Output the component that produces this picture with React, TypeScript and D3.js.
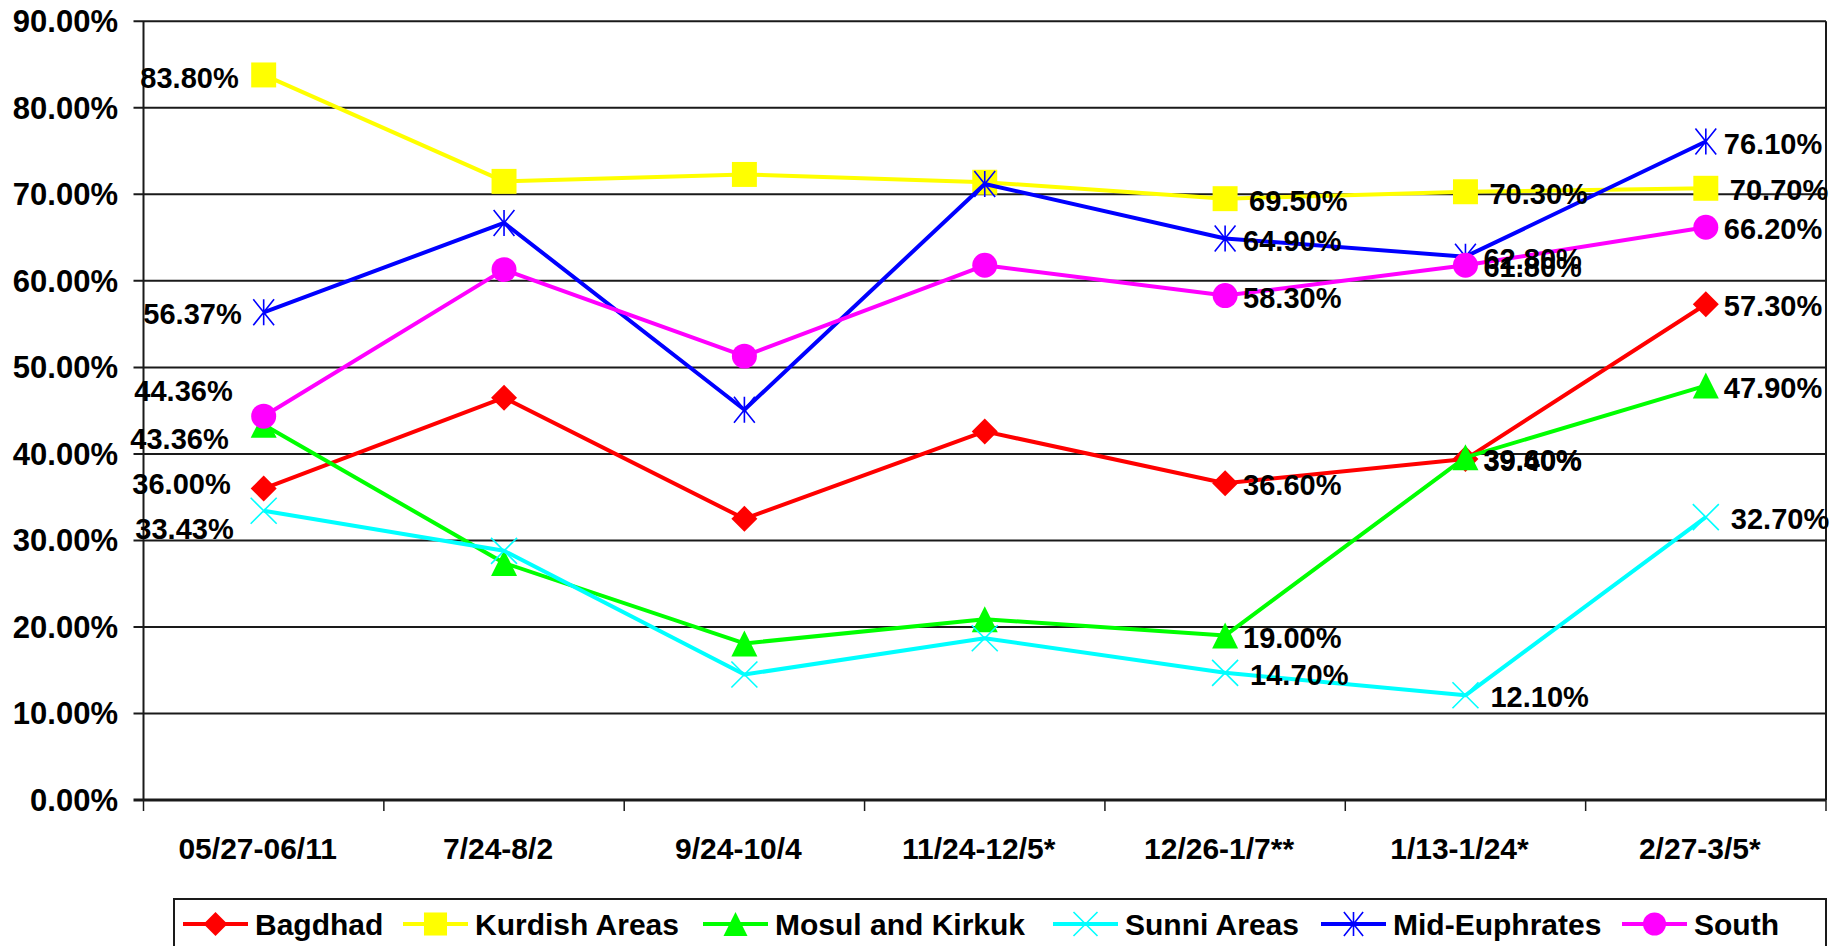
import React from "react";
import * as d3 from "d3";

const categories = ["05/27-06/11", "7/24-8/2", "9/24-10/4", "11/24-12/5*", "12/26-1/7**", "1/13-1/24*", "2/27-3/5*"];
const seriesNames = ["Bagdhad", "Kurdish Areas", "Mosul and Kirkuk", "Sunni Areas", "Mid-Euphrates", "South"];
const bagdhad = [36.0, 46.5, 32.5, 42.6, 36.6, 39.4, 57.3];
const kurdish = [83.8, 71.5, 72.3, 71.4, 69.5, 70.3, 70.7];
const mosul = [43.36, 27.4, 18.1, 20.9, 19.0, 39.6, 47.9];
const sunni = [33.43, 28.8, 14.5, 18.7, 14.7, 12.1, 32.7];
const midEuphrates = [56.37, 66.7, 45.1, 71.2, 64.9, 62.8, 76.1];
const south = [44.36, 61.3, 51.3, 61.8, 58.3, 61.8, 66.2];
const labeledIdx = [0, 4, 5, 6];
const yTicks = [0, 10, 20, 30, 40, 50, 60, 70, 80, 90];

const seriesValues = [bagdhad, kurdish, mosul, sunni, midEuphrates, south];
const colors = ["#FF0000", "#FFFF00", "#00FF00", "#00FFFF", "#0000FF", "#FF00FF"];
const shapes = ["diamond", "square", "triangle", "cross", "star", "circle"];
// first-column label placement (layout): [dx of right edge, dy of text centre]
const firstLabelOffset = [[-33, -5], [-25, 3], [-35, 14], [-30, 18], [-22, 2], [-31, -25]];
const rightLabelDx = [18, 24, 18, 25, 18, 18];
const legendLineX = [183, 403, 703, 1053, 1321, 1622];

const W = 1845, H = 946;
const left = 143.5, right = 1826, top = 21.3, bottom = 800;
const FONT = "'Liberation Sans', Arial, Helvetica, sans-serif";

function Marker({ shape, x, y, color, s = 13 }: { shape: string; x: number; y: number; color: string; s?: number }) {
  if (shape === "diamond") return <path d={`M${x},${y - s}L${x + s},${y}L${x},${y + s}L${x - s},${y}Z`} fill={color} />;
  if (shape === "square") return <rect x={x - s * 0.96} y={y - s * 0.96} width={s * 1.92} height={s * 1.92} fill={color} />;
  if (shape === "triangle") return <path d={`M${x},${y - s}L${x + s},${y + s}L${x - s},${y + s}Z`} fill={color} />;
  if (shape === "circle") return <circle cx={x} cy={y} r={s * 0.96} fill={color} />;
  if (shape === "cross")
    return <path d={`M${x - s},${y - s}L${x + s},${y + s}M${x - s},${y + s}L${x + s},${y - s}`} stroke={color} strokeWidth={1.6} fill="none" />;
  // star
  return <path d={`M${x - s * 0.8},${y - s}L${x + s * 0.8},${y + s}M${x - s * 0.8},${y + s}L${x + s * 0.8},${y - s}M${x},${y - s}L${x},${y + s}`} stroke={color} strokeWidth={1.6} fill="none" />;
}

export default function App() {
  const x = d3.scaleBand<string>().domain(categories).range([left, right]).paddingInner(0).paddingOuter(0);
  const cx = (c: string) => (x(c) as number) + x.bandwidth() / 2;
  const y = d3.scaleLinear().domain([0, 90]).range([bottom, top]);
  const line = d3.line<number>().x((_, i) => cx(categories[i])).y((v) => y(v));
  const tickXs = categories.map((c) => x(c) as number).concat([right]);

  return (
    <svg width={W} height={H} style={{ position: "absolute", left: 0, top: 0, background: "#fff" }} fontFamily={FONT}>
      <rect x={0} y={0} width={W} height={H} fill="#fff" />
      {/* gridlines & y ticks */}
      {yTicks.map((t) => (
        <g key={t}>
          <line x1={left - 10} x2={right} y1={y(t)} y2={y(t)} stroke="#1a1a1a" strokeWidth={t === 0 ? 3 : 2} />
          <text x={118} y={y(t)} dy="0.35em" textAnchor="end" fontSize={31} fontWeight="bold" fill="#000">
            {t.toFixed(2) + "%"}
          </text>
        </g>
      ))}
      <line x1={left} x2={left} y1={top} y2={bottom} stroke="#1a1a1a" strokeWidth={2} />
      <line x1={right} x2={right} y1={top} y2={bottom} stroke="#1a1a1a" strokeWidth={2} />
      {tickXs.map((tx, i) => (
        <line key={i} x1={tx} x2={tx} y1={bottom} y2={bottom + 11} stroke="#1a1a1a" strokeWidth={1.5} />
      ))}
      {categories.map((c) => (
        <text key={c} x={cx(c) - 6} y={848} dy="0.35em" textAnchor="middle" fontSize={30} fontWeight="bold" fill="#000">
          {c}
        </text>
      ))}
      {/* series */}
      {seriesValues.map((vals, si) => (
        <g key={si}>
          <path d={line(vals) as string} fill="none" stroke={colors[si]} strokeWidth={4} strokeLinejoin="round" />
          {vals.map((v, i) => (
            <Marker key={i} shape={shapes[si]} x={cx(categories[i])} y={y(v)} color={colors[si]} />
          ))}
        </g>
      ))}
      {/* labels */}
      {seriesValues.map((vals, si) =>
        labeledIdx.map((i) => {
          const px = cx(categories[i]);
          const py = y(vals[i]);
          const first = i === 0;
          const lx = first ? px + firstLabelOffset[si][0] : px + rightLabelDx[si];
          const ly = first ? py + firstLabelOffset[si][1] : py + 2;
          return (
            <text key={si + "-" + i} x={lx} y={ly} dy="0.35em" textAnchor={first ? "end" : "start"} fontSize={29} fontWeight="bold" fill="#000">
              {vals[i].toFixed(2) + "%"}
            </text>
          );
        })
      )}
      {/* legend */}
      <rect x={174} y={899} width={right - 174} height={60} fill="#fff" stroke="#1a1a1a" strokeWidth={2} />
      {seriesNames.map((n, si) => {
        const lx = legendLineX[si];
        return (
          <g key={n}>
            <line x1={lx} x2={lx + 65} y1={924} y2={924} stroke={colors[si]} strokeWidth={4} />
            <Marker shape={shapes[si]} x={lx + 32.5} y={924} color={colors[si]} s={12} />
            <text x={lx + 72} y={924} dy="0.35em" fontSize={30} fontWeight="bold" fill="#000">
              {n}
            </text>
          </g>
        );
      })}
    </svg>
  );
}
